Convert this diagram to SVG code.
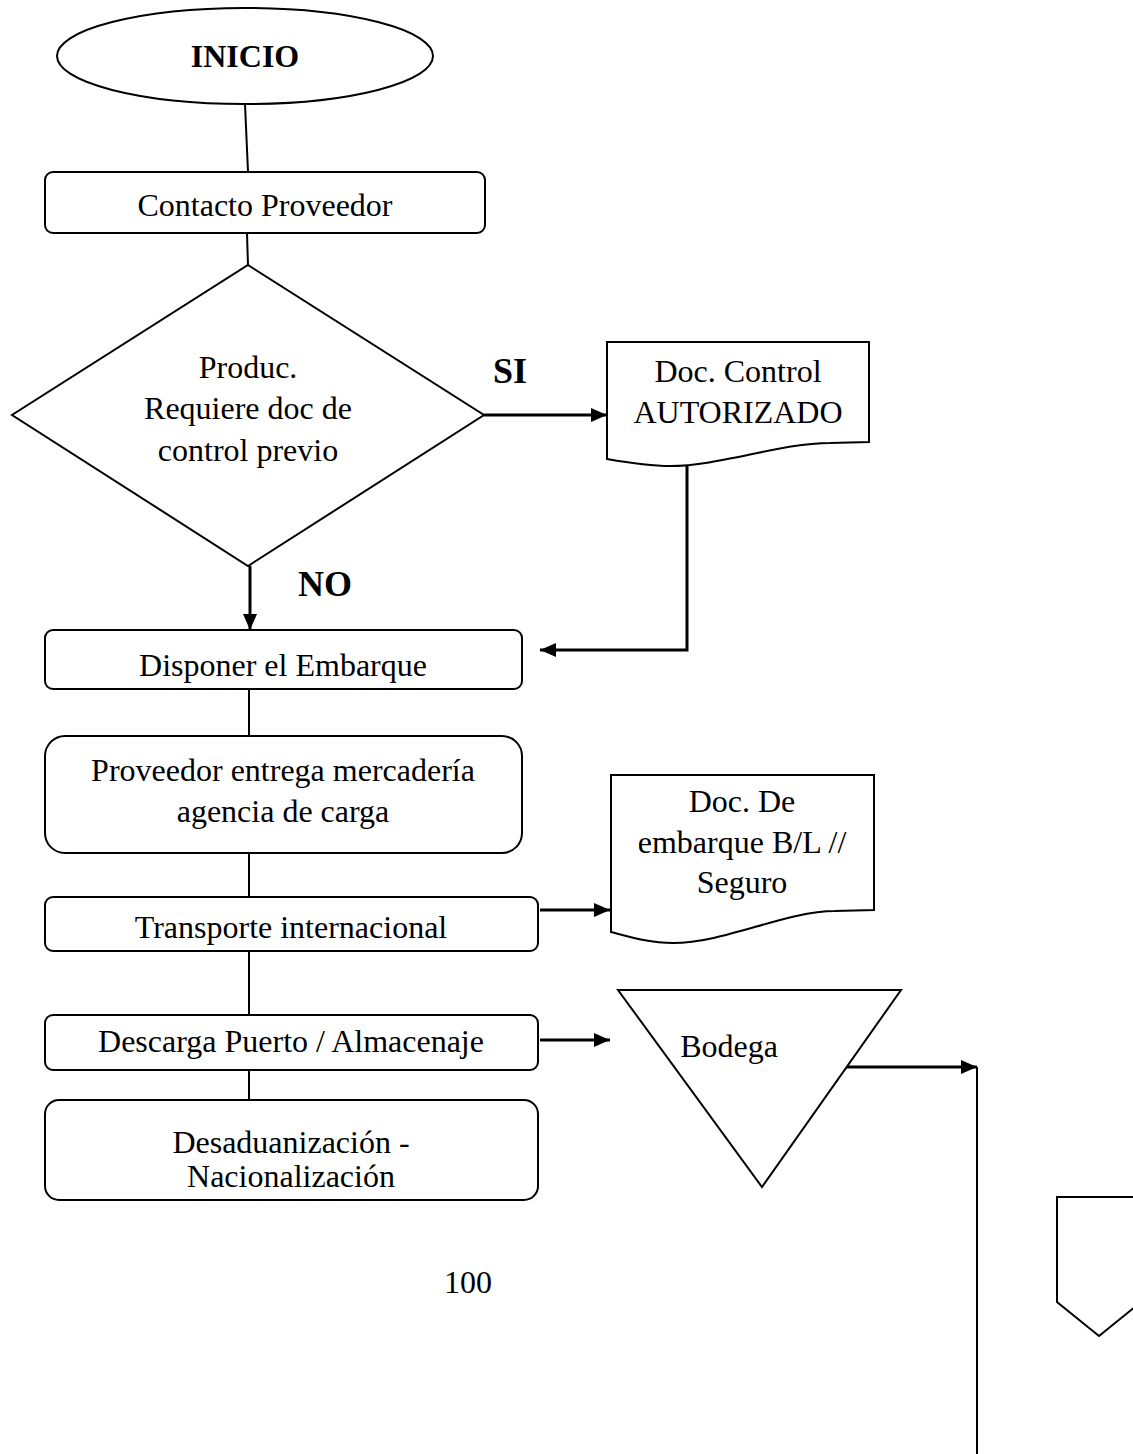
<svg xmlns="http://www.w3.org/2000/svg" width="1133" height="1454" viewBox="0 0 1133 1454">
<defs>
<marker id="ah" viewBox="0 0 16 14" refX="16" refY="7" markerWidth="16" markerHeight="14" markerUnits="userSpaceOnUse" orient="auto">
<path d="M0,0 L16,7 L0,14 Z" fill="#000"/>
</marker>
<style>
.s{fill:#fff;stroke:#000;stroke-width:2}
.t{font-family:"Liberation Serif","Times New Roman",serif;font-size:32px;fill:#000;text-anchor:middle}
.b{font-family:"Liberation Serif","Times New Roman",serif;font-weight:bold;fill:#000;text-anchor:middle}
.c{fill:none;stroke:#000;stroke-width:2}
.a{fill:none;stroke:#000;stroke-width:3}
</style>
</defs>
<rect width="1133" height="1454" fill="#fff"/>
<g id="connectors">
<path class="c" d="M245,104 L248,172"/>
<path class="c" d="M247,233 L248,265"/>
<path class="a" d="M484,415 L607,415" marker-end="url(#ah)"/>
<path class="a" d="M250,566 L250,630" marker-end="url(#ah)"/>
<path class="a" d="M687,466 L687,650 L540,650" marker-end="url(#ah)"/>
<path class="c" d="M249,689 L249,736"/>
<path class="c" d="M249,853 L249,897"/>
<path class="a" d="M540,910 L610,910" marker-end="url(#ah)"/>
<path class="c" d="M249,951 L249,1015"/>
<path class="a" d="M540,1040 L610,1040" marker-end="url(#ah)"/>
<path class="c" d="M249,1070 L249,1100"/>
<path class="a" d="M822,1067 L977,1067" marker-end="url(#ah)"/>
<path class="c" d="M977,1067 L977,1454"/>
</g>
<g id="inicio">
<ellipse class="s" cx="245" cy="56" rx="188" ry="48"/>
<text class="b" x="245" y="67" font-size="32">INICIO</text>
</g>
<g id="contacto">
<rect class="s" x="45" y="172" width="440" height="61" rx="8"/>
<text class="t" x="265" y="216">Contacto Proveedor</text>
</g>
<g id="decision">
<polygon class="s" points="248,265 484,415 248,566 12,415"/>
<text class="t" x="248" y="378">Produc.</text>
<text class="t" x="248" y="419">Requiere doc de</text>
<text class="t" x="248" y="461">control previo</text>
</g>
<g id="label-si"><text class="b" x="510" y="383" font-size="36">SI</text></g>
<g id="label-no"><text class="b" x="325" y="596" font-size="36">NO</text></g>
<g id="doc-control">
<path class="s" d="M607,342 L869,342 L869,442 L830,443 C780,443 720,466 670,466 C650,466 630,463 607,459 Z"/>
<text class="t" x="738" y="382">Doc. Control</text>
<text class="t" x="738" y="423">AUTORIZADO</text>
</g>
<g id="disponer">
<rect class="s" x="45" y="630" width="477" height="59" rx="8"/>
<text class="t" x="283" y="676">Disponer el Embarque</text>
</g>
<g id="proveedor">
<rect class="s" x="45" y="736" width="477" height="117" rx="20"/>
<text class="t" x="283" y="781">Proveedor entrega mercadería</text>
<text class="t" x="283" y="822">agencia de carga</text>
</g>
<g id="transporte">
<rect class="s" x="45" y="897" width="493" height="54" rx="8"/>
<text class="t" x="291" y="938">Transporte internacional</text>
</g>
<g id="doc-embarque">
<path class="s" d="M611,775 L874,775 L874,910 L835,911 C785,911 725,943 673,943 C650,943 630,937 611,932 Z"/>
<text class="t" x="742" y="812">Doc. De</text>
<text class="t" x="742" y="853">embarque B/L //</text>
<text class="t" x="742" y="893">Seguro</text>
</g>
<g id="descarga">
<rect class="s" x="45" y="1015" width="493" height="55" rx="8"/>
<text class="t" x="291" y="1052">Descarga Puerto / Almacenaje</text>
</g>
<g id="bodega">
<polygon class="s" points="618,990 901,990 762,1187"/>
<text class="t" x="729" y="1057">Bodega</text>
</g>
<g id="desaduanizacion">
<rect class="s" x="45" y="1100" width="493" height="100" rx="14"/>
<text class="t" x="291" y="1153">Desaduanización -</text>
<text class="t" x="291" y="1187">Nacionalización</text>
</g>
<g id="page-number"><text class="t" x="468" y="1293">100</text></g>
<g id="offpage">
<polygon class="s" points="1057,1197 1141,1197 1141,1302 1099,1336 1057,1302"/>
</g>
</svg>
